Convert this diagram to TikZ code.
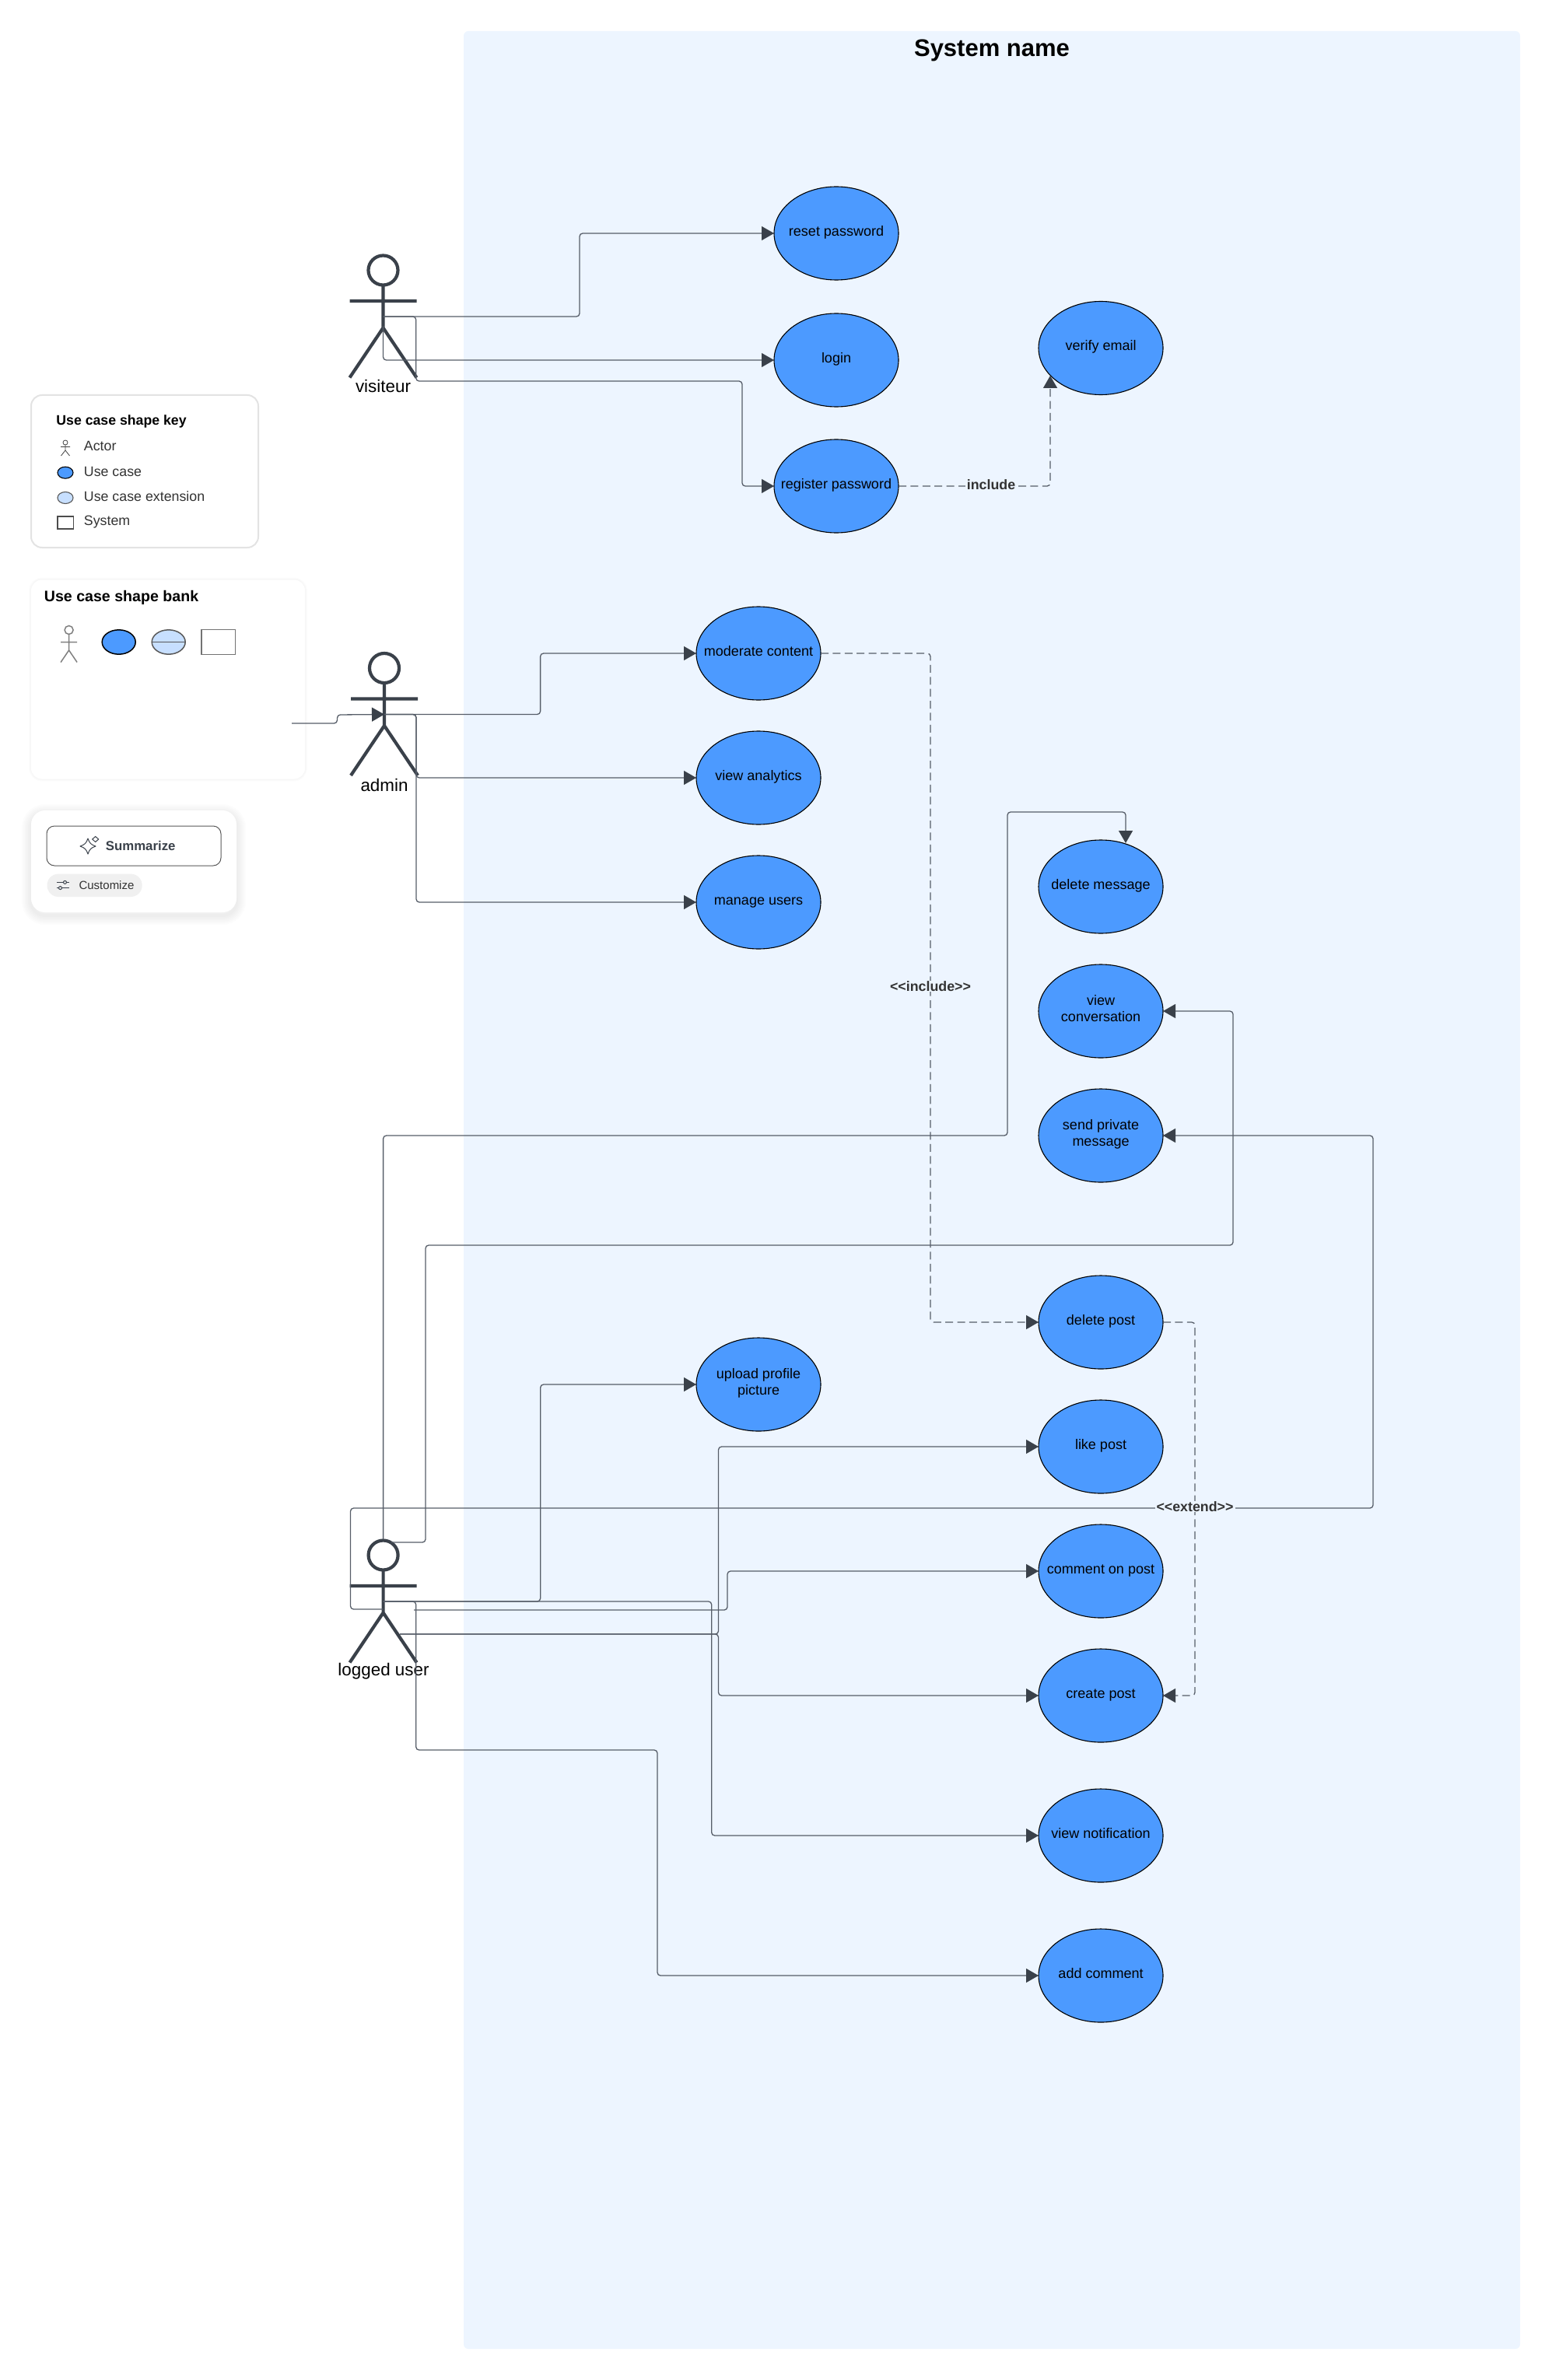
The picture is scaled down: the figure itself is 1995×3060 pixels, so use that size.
\documentclass[tikz,border=0pt]{standalone}
\usepackage{fontspec}
\setmainfont{Liberation Sans}
\usetikzlibrary{arrows.meta,shapes.geometric}

\definecolor{sysblue}{HTML}{EDF5FF}
\definecolor{caseblue}{HTML}{4C9AFF}
\definecolor{extblue}{HTML}{C7DFFF}
\definecolor{linkgrey}{HTML}{565D68}
\definecolor{tipgrey}{HTML}{3A414A}
\definecolor{labelgrey}{HTML}{333333}

% text in a case node keeps out of the ellipse's size
\newcommand{\casetext}[1]{\raisebox{-1.6pt}[0pt][0pt]{\makebox[0pt]{#1}}}

\tikzset{
  usecase/.style={ellipse, draw=black, line width=.55pt, fill=caseblue, inner sep=0pt,
    outer sep=0pt, minimum width=80pt, minimum height=60pt, align=center,
    font=\fontsize{9}{10.75}\selectfont},
  link/.style={draw=linkgrey, line width=.65pt, rounded corners=2pt,
    -{Triangle[length=8pt,width=9pt,color=tipgrey]}},
  dashlink/.style={link, dash pattern=on 5pt off 2.7pt},
  linktext/.style={fill=sysblue, inner xsep=1pt, inner ysep=0pt, text=labelgrey,
    font=\fontsize{8.9}{10.75}\selectfont\bfseries},
  actorname/.style={font=\fontsize{11.2}{13}\selectfont},
  keytext/.style={anchor=west, inner sep=0pt, text=labelgrey, font=\fontsize{8.9}{10.75}\selectfont},
  pics/stickman/.style={code={
    \draw[tipgrey, line width=2.1pt]
      (0,0) circle[x radius=19, y radius=19]
      (0,20) -- (0,74) (-43,39.5) -- (43,39.5)
      (-43,138) -- (0,74) -- (43,138);
    \coordinate (-torso) at (0,59.5);
    \coordinate (-waist) at (0,72);
  }},
  pics/tinyman/.style={code={
    \draw[#1] (0,0) circle[radius=5.5]
      (0,5.5) -- (0,26) (-10.5,15.5) -- (10.5,15.5)
      (-10.5,41.5) -- (0,26) -- (10.5,41.5);
  }}
}

\begin{document}
\begin{tikzpicture}[x=0.5pt,y=-0.5pt]
  \useasboundingbox (0,0) rectangle (1995,3060);
  \fill[sysblue, rounded corners=3pt] (596,40) rectangle (1954,3020);
  \node[font=\fontsize{15.5}{18}\selectfont\bfseries] (sysname) at (1275,65) {System name};

  % key panel
  \draw[draw=black!11, line width=1pt, fill=white, rounded corners=7pt] (40,508) rectangle (332,704);
  \node[keytext, font=\fontsize{8.85}{10.75}\selectfont\bfseries, text=black] (keytitle) at (72,542) {Use case shape key};
  \node[keytext] (keyactor) at (107.5,573.5) {Actor};
  \node[keytext] (keycase) at (107.5,606) {Use case};
  \node[keytext] (keyext) at (107.5,638) {Use case extension};
  \node[keytext] (keysys) at (107.5,671) {System};
  \draw[black!75, line width=.4pt] (84,569) circle[radius=3]
    (84,572) -- (84,579) (78,574.5) -- (90,574.5) (78.5,586) -- (84,579) -- (89.5,586);
  \draw[black, line width=.55pt, fill=caseblue] (84,607.7) ellipse[x radius=10, y radius=7.5];
  \draw[black!65, line width=.55pt, fill=extblue] (84,640) ellipse[x radius=10, y radius=7.5];
  \draw[black!70, line width=.55pt, fill=white] (74,664) rectangle (94.5,680);

  % bank panel
  \foreach \s in {1,2,3}
    \draw[black, opacity=.012, line width=\s pt, rounded corners=7pt] (40,745.5) rectangle (392,1001.5);
  \fill[white, rounded corners=7pt] (40,745.5) rectangle (392,1001.5);
  \node[keytext, font=\fontsize{9.8}{12}\selectfont\bfseries, text=black] (banktitle) at (56.5,768) {Use case shape bank};
  \pic at (88.6,810) {tinyman={black!50, line width=.75pt}};
  \draw[black, line width=.75pt, fill=caseblue] (152.7,825.5) ellipse[x radius=21.5, y radius=15.7];
  \draw[black!65, line width=.75pt, fill=extblue] (216.7,825.5) ellipse[x radius=21.5, y radius=15.7];
  \draw[black!65, line width=.75pt] (195.2,825.5) -- (238.2,825.5);
  \draw[black!55, line width=.85pt, fill=white] (259,809.6) rectangle (302.5,841.6);

  % summarize panel
  \foreach \s in {2,4,...,12}
    \draw[black, opacity=.012, line width=\s pt, rounded corners=9pt] (40,1046) rectangle (304,1177);
  \fill[white, rounded corners=9pt] (40,1042) rectangle (304,1173);
  \node[draw=black!65, line width=.5pt, rounded corners=5pt, minimum width=112pt, minimum height=25.5pt, inner sep=0pt] (sumbutton) at (172,1087.5) {};
  \node[inner sep=0pt, text=tipgrey, font=\fontsize{8.4}{10}\selectfont\bfseries] (sumtext) at (180.7,1087) {Summarize};
  \draw[tipgrey, line width=.5pt, line join=round]
    (103,1088) .. controls (109,1086) and (111,1084) .. (113,1078) .. controls (115,1084) and (117,1086) .. (123,1088)
    .. controls (117,1090) and (115,1092) .. (113,1098) .. controls (111,1092) and (109,1090) .. (103,1088) -- cycle;
  \draw[tipgrey, line width=.5pt] (118.7,1079) -- (122.7,1075.5) -- (126.7,1079) -- (122.7,1082.5) -- cycle;
  \node[fill=black!6, rounded corners=7.3pt, minimum width=61.1pt, minimum height=14.7pt, inner sep=0pt] (custompill) at (121.6,1138.3) {};
  \node[inner sep=0pt, text=labelgrey, font=\fontsize{7.5}{9}\selectfont] (customtext) at (137,1137.8) {Customize};
  \draw[tipgrey, line width=.5pt] (73,1134.4) -- (88.6,1134.4) (73,1141.6) -- (88.6,1141.6);
  \draw[tipgrey, line width=.5pt, fill=black!6] (83.5,1134.4) circle[radius=2] (77.5,1141.6) circle[radius=2];

  % use cases
  \node[usecase] (resetpw) at (1075,300) {\casetext{reset password}};
  \node[usecase] (login) at (1075,463) {\casetext{login}};
  \node[usecase] (register) at (1075,625) {\casetext{register password}};
  \node[usecase] (verify) at (1415,447.5) {\casetext{verify email}};
  \node[usecase] (moderate) at (975,840) {\casetext{moderate content}};
  \node[usecase] (analytics) at (975,1000) {\casetext{view analytics}};
  \node[usecase] (manage) at (975,1160) {\casetext{manage users}};
  \node[usecase] (delmsg) at (1415,1140) {\casetext{delete message}};
  \node[usecase] (viewconv) at (1415,1300) {\casetext{view}\\\casetext{conversation}};
  \node[usecase] (sendmsg) at (1415,1460) {\casetext{send private}\\\casetext{message}};
  \node[usecase] (delpost) at (1415,1700) {\casetext{delete post}};
  \node[usecase] (upload) at (975,1780) {\casetext{upload profile}\\\casetext{picture}};
  \node[usecase] (likepost) at (1415,1860) {\casetext{like post}};
  \node[usecase] (commentpost) at (1415,2020) {\casetext{comment on post}};
  \node[usecase] (createpost) at (1415,2180) {\casetext{create post}};
  \node[usecase] (viewnotif) at (1415,2360) {\casetext{view notification}};
  \node[usecase] (addcomment) at (1415,2540) {\casetext{add comment}};

  % actors
  \pic (visiteur) at (492.5,347.5) {stickman};
  \pic (admin) at (494,859) {stickman};
  \pic (logged) at (492.6,1999.5) {stickman};
  \node[actorname] (visiteurname) at (492.5,496) {visiteur};
  \node[actorname] (adminname) at (494,1009) {admin};
  \node[actorname] (loggedname) at (493,2149) {logged user};

  \coordinate (bankport) at (375,930);
  \coordinate (loggedtop) at (492.6,1979);
  \coordinate (loggedneck) at (503,1983);
  \coordinate (loggedback) at (492.6,2069);
  \coordinate (loggedcross) at (532,2070);
  \coordinate (loggedleg) at (514,2101);

  % visiteur
  \draw[link] (visiteur-torso) -| (745,300) -- (resetpw.west);
  \draw[link] (visiteur-waist) |- (login.west);
  \draw[link] (visiteur-torso) -| (534.7,490) -| (954,625) -- (register.west);
  \draw[dashlink] (register.east) -| (1350,483);

  % admin
  \draw[link] (bankport) -- (433.5,930) -- (433.5,919) -- (admin-torso);
  \draw[link] (admin-torso) -| (694.6,840) -- (moderate.west);
  \draw[link] (admin-torso) -| (535,1000) -- (analytics.west);
  \draw[link] (admin-torso) -| (535,1160) -- (manage.west);
  \draw[dashlink] (moderate.east) -| (1196,1700) -- (delpost.west);

  % logged user
  \draw[link] (loggedtop) |- (1295,1460) |- (1447,1044) -- (1447,1084);
  \draw[link] (loggedneck) -| (547,1601) -| (1585,1300) -- (viewconv.east);
  \draw[link] (loggedback) -| (450.5,1939) -| (1765,1460) -- (sendmsg.east);
  \draw[link] (logged-torso) -| (694.7,1780) -- (upload.west);
  \draw[link] (loggedleg) -| (923.5,1860) -- (likepost.west);
  \draw[link] (loggedcross) -| (935,2020) -- (commentpost.west);
  \draw[link] (loggedleg) -| (923.5,2180) -- (createpost.west);
  \draw[link] (logged-torso) -| (914.7,2360) -- (viewnotif.west);
  \draw[link] (logged-torso) -| (534.7,2250) -| (845,2540) -- (addcomment.west);
  \draw[dashlink] (delpost.east) -| (1536,2180) -- (createpost.east);

  % link labels
  \node[linktext] (includeshort) at (1274,622.7) {include};
  \node[linktext] (includelong) at (1196,1268) {{<}{<}include{>}{>}};
  \node[linktext] (extendlbl) at (1536,1937) {{<}{<}extend{>}{>}};
\end{tikzpicture}
\end{document}
